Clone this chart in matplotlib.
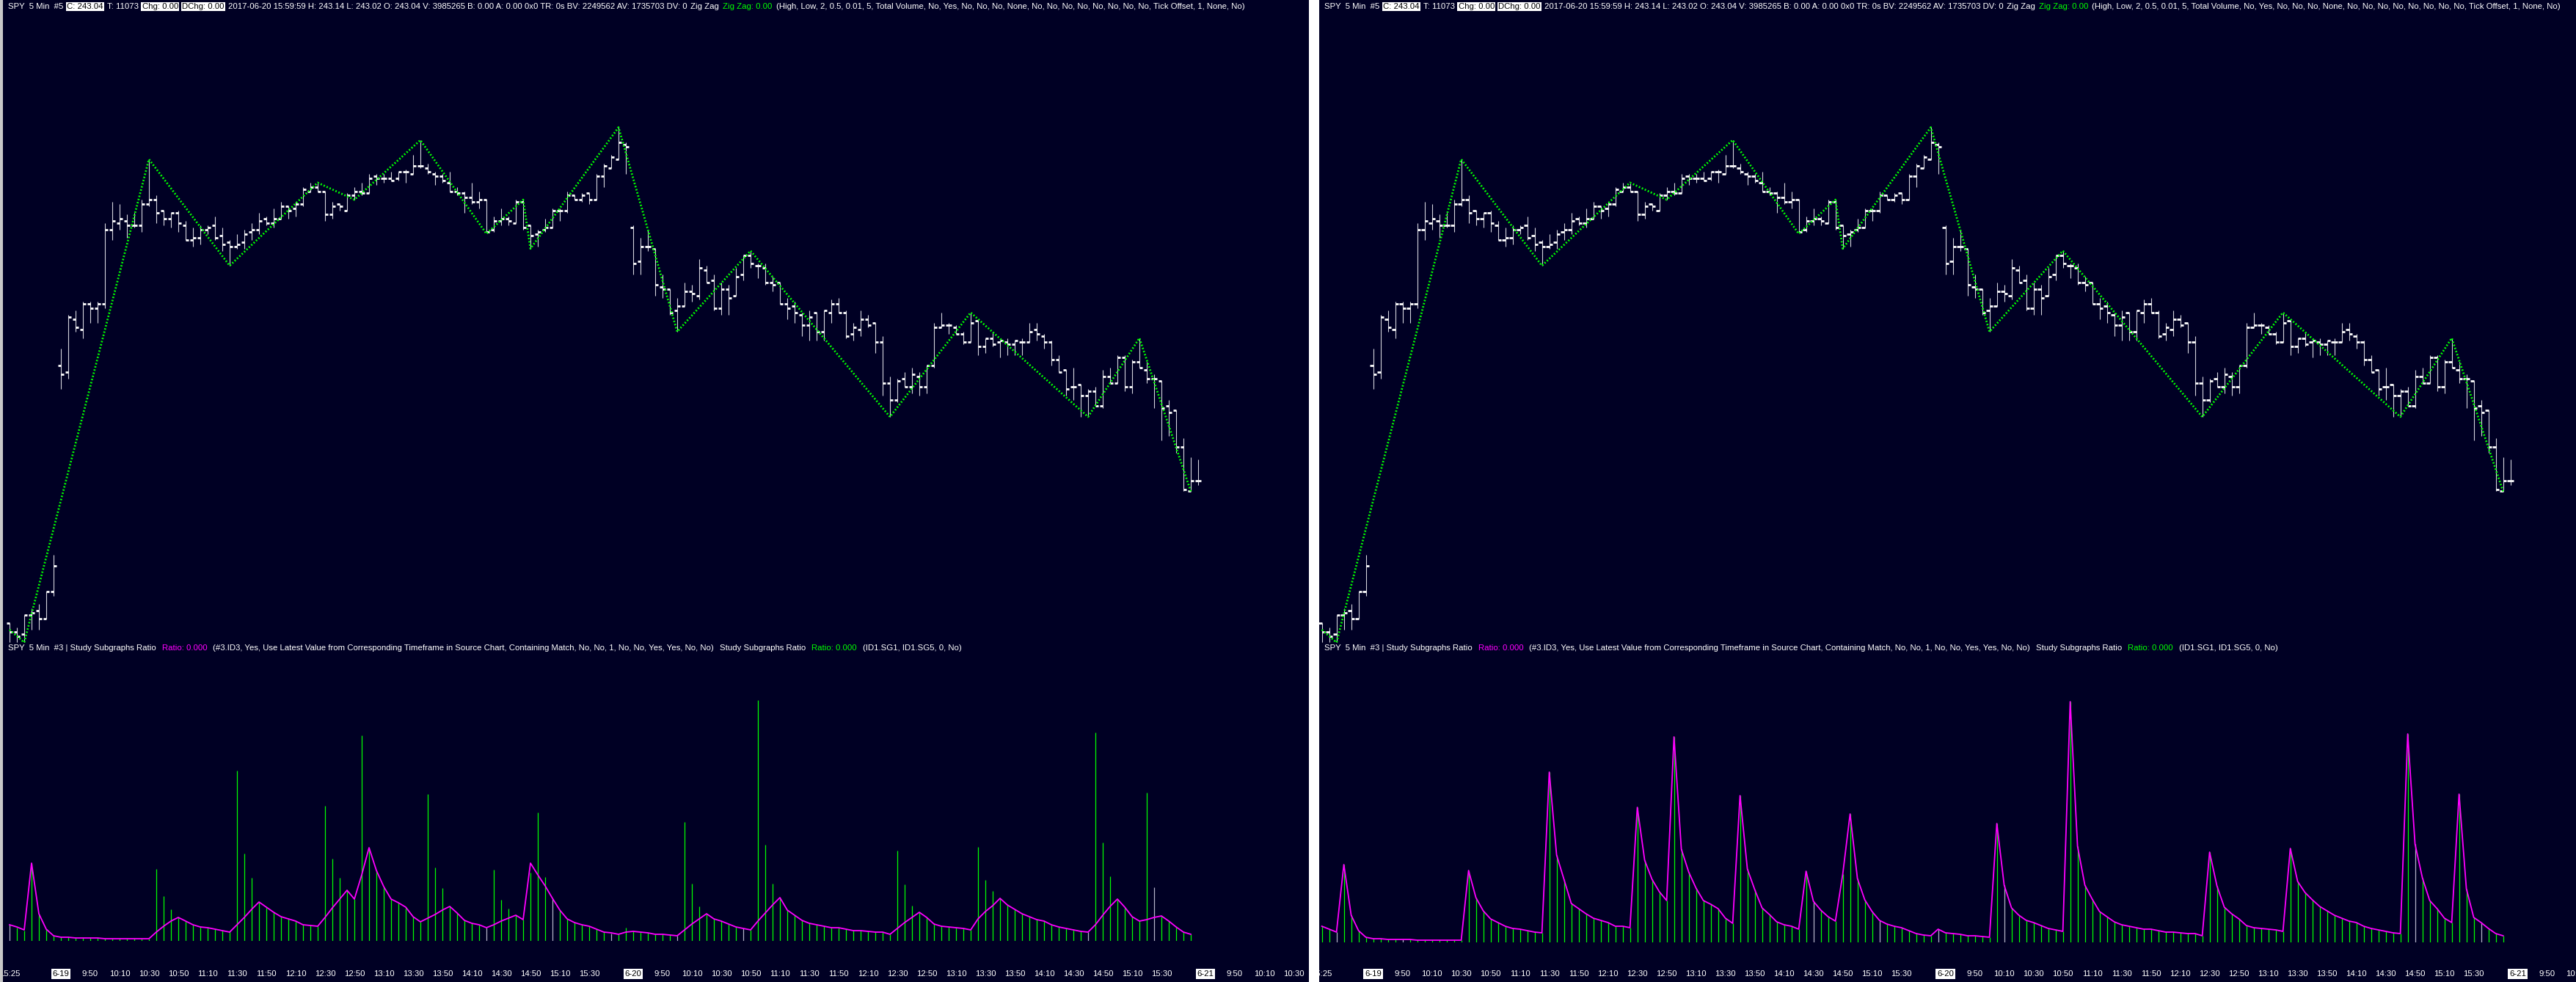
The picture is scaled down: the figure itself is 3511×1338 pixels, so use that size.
import matplotlib
matplotlib.use("Agg")
import matplotlib.pyplot as plt
from matplotlib import font_manager as fm
from matplotlib.font_manager import FontProperties
from matplotlib.transforms import blended_transform_factory
from datetime import datetime, timedelta

W, H, DPI = 3512, 1338, 100
BG = '#000024'
GREEN = '#00ff00'
MAGENTA = '#ff00ff'
BAR_GRAY = '#b4b4c8'

# SPY 5 min bars: 6-16 (last 7 bars), 6-19, 6-20
opens = [242.37, 242.33, 242.32, 242.41, 242.43, 242.39, 242.52,
         243.58, 243.55, 243.80, 243.75, 243.87, 243.85, 243.87, 244.22, 244.25, 244.26, 244.24, 244.24, 244.34,
         244.36, 244.31, 244.27, 244.30, 244.24, 244.17, 244.18, 244.22, 244.24, 244.19,
         244.16, 244.14, 244.16, 244.21, 244.22, 244.27, 244.25, 244.27, 244.33, 244.32,
         244.34, 244.40, 244.42, 244.40, 244.29, 244.34, 244.31, 244.38, 244.40, 244.39,
         244.47, 244.46, 244.46, 244.46, 244.49, 244.48, 244.52, 244.51, 244.48, 244.47,
         244.44, 244.40, 244.39, 244.37, 244.35, 244.36, 244.22, 244.26, 244.27, 244.25,
         244.35, 244.24, 244.20, 244.22, 244.23, 244.31, 244.31, 244.38, 244.36, 244.39,
         244.36, 244.47, 244.51, 244.55, 244.62,
         244.23, 244.07, 244.14, 244.13, 243.95, 243.94, 243.84, 243.86, 243.93, 243.91,
         244.03, 243.98, 243.85, 243.94, 243.91, 244.01, 244.10, 244.05, 244.04, 243.97,
         243.97, 243.87, 243.86, 243.82, 243.77, 243.83, 243.74, 243.83, 243.87, 243.83,
         243.73, 243.75, 243.80, 243.78, 243.69, 243.50, 243.42, 243.52, 243.48, 243.53,
         243.48, 243.58, 243.76, 243.77, 243.76, 243.73, 243.69, 243.79, 243.67, 243.71,
         243.69, 243.69, 243.68, 243.69, 243.69, 243.75, 243.72, 243.69, 243.61, 243.56,
         243.48, 243.49, 243.44, 243.46, 243.39, 243.53, 243.50, 243.62, 243.48, 243.60,
         243.56, 243.52, 243.51, 243.39, 243.37, 243.20, 242.99, 243.04]
highs = [242.37, 242.35, 242.41, 242.44, 242.46, 242.52, 242.69,
         243.66, 243.82, 243.84, 243.88, 243.88, 243.88, 244.25, 244.35, 244.34, 244.29, 244.30, 244.36, 244.55,
         244.38, 244.31, 244.30, 244.31, 244.26, 244.23, 244.24, 244.24, 244.28, 244.23,
         244.17, 244.20, 244.22, 244.25, 244.30, 244.28, 244.32, 244.35, 244.33, 244.35,
         244.42, 244.44, 244.44, 244.40, 244.35, 244.34, 244.39, 244.42, 244.44, 244.48,
         244.48, 244.48, 244.49, 244.49, 244.50, 244.57, 244.64, 244.53, 244.49, 244.48,
         244.49, 244.42, 244.40, 244.44, 244.40, 244.36, 244.28, 244.32, 244.28, 244.36,
         244.36, 244.24, 244.22, 244.27, 244.32, 244.32, 244.40, 244.38, 244.39, 244.39,
         244.48, 244.53, 244.57, 244.70, 244.63,
         244.24, 244.18, 244.22, 244.13, 244.01, 243.94, 243.90, 243.97, 243.96, 244.08,
         244.05, 244.01, 243.97, 243.96, 244.04, 244.10, 244.12, 244.06, 244.06, 244.00,
         243.97, 243.90, 243.88, 243.83, 243.84, 243.83, 243.84, 243.89, 243.90, 243.84,
         243.78, 243.84, 243.82, 243.78, 243.72, 243.53, 243.52, 243.55, 243.57, 243.55,
         243.58, 243.78, 243.83, 243.78, 243.77, 243.74, 243.83, 243.80, 243.71, 243.74,
         243.70, 243.71, 243.70, 243.71, 243.78, 243.78, 243.73, 243.70, 243.63, 243.56,
         243.57, 243.49, 243.47, 243.48, 243.56, 243.57, 243.63, 243.63, 243.61, 243.71,
         243.60, 243.54, 243.51, 243.42, 243.37, 243.24, 243.15, 243.14]
lows = [242.28, 242.28, 242.28, 242.34, 242.34, 242.39, 242.50,
        243.47, 243.52, 243.74, 243.71, 243.78, 243.78, 243.85, 244.17, 244.22, 244.18, 244.23, 244.21, 244.33,
        244.25, 244.24, 244.23, 244.21, 244.17, 244.14, 244.15, 244.20, 244.17, 244.12,
        244.05, 244.13, 244.13, 244.17, 244.20, 244.24, 244.23, 244.27, 244.27, 244.28,
        244.33, 244.40, 244.40, 244.26, 244.27, 244.31, 244.31, 244.36, 244.38, 244.39,
        244.43, 244.44, 244.45, 244.45, 244.44, 244.48, 244.51, 244.48, 244.43, 244.44,
        244.40, 244.38, 244.30, 244.34, 244.32, 244.21, 244.21, 244.24, 244.24, 244.25,
        244.22, 244.13, 244.14, 244.21, 244.23, 244.26, 244.30, 244.36, 244.35, 244.34,
        244.36, 244.42, 244.51, 244.55, 244.48,
        244.01, 244.01, 244.12, 243.91, 243.90, 243.82, 243.74, 243.86, 243.88, 243.89,
        243.97, 243.84, 243.82, 243.82, 243.91, 243.98, 244.04, 243.99, 243.96, 243.93,
        243.87, 243.80, 243.78, 243.72, 243.70, 243.70, 243.70, 243.78, 243.83, 243.71,
        243.70, 243.72, 243.76, 243.64, 243.44, 243.34, 243.41, 243.48, 243.45, 243.44,
        243.45, 243.57, 243.76, 243.73, 243.73, 243.68, 243.69, 243.63, 243.64, 243.67,
        243.62, 243.63, 243.63, 243.63, 243.69, 243.70, 243.66, 243.58, 243.55, 243.44,
        243.42, 243.34, 243.34, 243.39, 243.38, 243.50, 243.50, 243.46, 243.45, 243.57,
        243.50, 243.38, 243.23, 243.25, 243.17, 242.99, 242.99, 243.02]
closes = [242.33, 242.31, 242.41, 242.42, 242.39, 242.52, 242.64,
          243.54, 243.81, 243.76, 243.87, 243.85, 243.87, 244.22, 244.26, 244.27, 244.24, 244.24, 244.34, 244.36,
          244.30, 244.27, 244.30, 244.25, 244.17, 244.18, 244.22, 244.23, 244.18, 244.15,
          244.14, 244.15, 244.20, 244.22, 244.26, 244.25, 244.27, 244.33, 244.31, 244.34,
          244.41, 244.42, 244.40, 244.29, 244.33, 244.33, 244.38, 244.40, 244.39, 244.46,
          244.46, 244.46, 244.45, 244.49, 244.49, 244.52, 244.52, 244.49, 244.47, 244.45,
          244.40, 244.39, 244.37, 244.35, 244.36, 244.21, 244.26, 244.27, 244.26, 244.35,
          244.23, 244.19, 244.21, 244.23, 244.31, 244.31, 244.38, 244.36, 244.38, 244.36,
          244.47, 244.52, 244.56, 244.63, 244.61,
          244.06, 244.14, 244.14, 243.96, 243.94, 243.83, 243.86, 243.93, 243.92, 244.04,
          243.97, 243.85, 243.94, 243.90, 244.00, 244.10, 244.06, 244.05, 243.97, 243.96,
          243.87, 243.85, 243.83, 243.77, 243.81, 243.74, 243.84, 243.87, 243.83, 243.72,
          243.76, 243.80, 243.77, 243.69, 243.50, 243.42, 243.51, 243.48, 243.54, 243.48,
          243.58, 243.76, 243.77, 243.77, 243.73, 243.69, 243.78, 243.67, 243.71, 243.68,
          243.70, 243.68, 243.70, 243.69, 243.74, 243.73, 243.69, 243.61, 243.55, 243.47,
          243.48, 243.44, 243.46, 243.39, 243.53, 243.50, 243.62, 243.48, 243.60, 243.57,
          243.52, 243.52, 243.38, 243.36, 243.20, 243.00, 243.04, 243.04]

# Zig Zag swing points (bar index, price)
zz_bars = [0, 2, 19, 30, 42, 47, 56, 65, 70, 71, 83, 91, 101, 120, 131, 147, 154, 161]
zz_prices = [242.34, 242.28, 244.55, 244.05, 244.44, 244.36, 244.64, 244.20, 244.36,
             244.13, 244.70, 243.74, 244.12, 243.34, 243.83, 243.34, 243.71, 242.99]

# Study Subgraphs Ratio (bars) and the left chart's ratio line
ratio = [0.22, 0.18, 0.14, 1.06, 0.37, 0.16, 0.07, 0.05, 0.05, 0.04,
         0.04, 0.04, 0.04, 0.03, 0.03, 0.03, 0.03, 0.03, 0.03, 0.03,
         0.98, 0.61, 0.43, 0.32, 0.27, 0.22, 0.19, 0.18, 0.16, 0.14,
         0.13, 2.32, 1.19, 0.86, 0.53, 0.46, 0.39, 0.33, 0.30, 0.27,
         0.22, 0.22, 0.20, 1.84, 1.12, 0.86, 0.69, 0.57, 2.80, 1.27,
         0.96, 0.74, 0.57, 0.52, 0.46, 0.33, 0.26, 2.00, 1.00, 0.72,
         0.47, 0.38, 0.28, 0.24, 0.22, 0.18, 0.97, 0.56, 0.44, 0.35,
         0.29, 0.93, 1.75, 0.87, 0.58, 0.42, 0.30, 0.25, 0.22, 0.20,
         0.16, 0.12, 0.10, 0.09, 0.18, 0.13, 0.12, 0.11, 0.09, 0.09,
         0.08, 0.07, 1.62, 0.78, 0.47, 0.37, 0.30, 0.27, 0.23, 0.19,
         0.17, 0.15, 3.28, 1.31, 0.78, 0.59, 0.42, 0.35, 0.28, 0.24,
         0.22, 0.20, 0.18, 0.18, 0.16, 0.14, 0.14, 0.13, 0.12, 0.12,
         0.09, 1.23, 0.77, 0.48, 0.39, 0.32, 0.23, 0.20, 0.19, 0.18,
         0.17, 0.15, 1.28, 0.83, 0.68, 0.58, 0.49, 0.43, 0.37, 0.33,
         0.29, 0.27, 0.22, 0.19, 0.17, 0.15, 0.13, 0.12, 2.84, 1.34,
         0.88, 0.57, 0.46, 0.33, 0.27, 2.02, 0.73, 0.34, 0.27, 0.19,
         0.12, 0.09]
ratio_line_left = [0.22, 0.19, 0.15, 1.06, 0.37, 0.16, 0.07, 0.05, 0.05, 0.04,
                   0.04, 0.04, 0.04, 0.03, 0.03, 0.03, 0.03, 0.03, 0.03, 0.03,
                   0.12, 0.20, 0.27, 0.32, 0.27, 0.22, 0.19, 0.18, 0.16, 0.14,
                   0.12, 0.22, 0.32, 0.43, 0.53, 0.46, 0.39, 0.33, 0.30, 0.27,
                   0.22, 0.21, 0.20, 0.32, 0.45, 0.57, 0.69, 0.57, 0.90, 1.27,
                   0.96, 0.74, 0.57, 0.52, 0.46, 0.33, 0.26, 0.31, 0.36, 0.42,
                   0.47, 0.38, 0.28, 0.24, 0.22, 0.18, 0.22, 0.27, 0.31, 0.35,
                   0.29, 1.06, 0.90, 0.75, 0.58, 0.42, 0.30, 0.25, 0.22, 0.20,
                   0.16, 0.12, 0.11, 0.09, 0.12, 0.13, 0.12, 0.11, 0.09, 0.09,
                   0.08, 0.07, 0.15, 0.23, 0.30, 0.37, 0.30, 0.27, 0.23, 0.19,
                   0.17, 0.15, 0.27, 0.38, 0.49, 0.59, 0.42, 0.35, 0.28, 0.24,
                   0.22, 0.20, 0.18, 0.18, 0.16, 0.14, 0.14, 0.13, 0.12, 0.12,
                   0.09, 0.17, 0.25, 0.32, 0.39, 0.32, 0.23, 0.20, 0.19, 0.18,
                   0.17, 0.15, 0.30, 0.40, 0.48, 0.58, 0.49, 0.43, 0.37, 0.33,
                   0.29, 0.27, 0.22, 0.19, 0.17, 0.15, 0.13, 0.12, 0.22, 0.35,
                   0.47, 0.57, 0.46, 0.33, 0.27, 0.29, 0.32, 0.34, 0.27, 0.19,
                   0.12, 0.09]
gray_left = [0, 65, 74, 82, 91, 100, 147, 156]
gray_right = [2, 11, 67, 76, 84, 93, 149, 158]

session_days = ['2017-06-16', '2017-06-19', '2017-06-20', '2017-06-21']
session_first = ['15:25', '09:30', '09:30', '09:30']
session_bars = [7, 78, 78, 16]   # 6-21: empty future slots

header1 = [("SPY  5 Min  #5", 'white', False),
           ("C: 243.04", 'black', True),
           ("T: 11073", 'white', False),
           ("Chg: 0.00", 'black', True),
           ("DChg: 0.00", 'black', True),
           ("2017-06-20 15:59:59 H: 243.14 L: 243.02 O: 243.04 V: 3985265 B: 0.00 A: 0.00 0x0 "
            "TR: 0s BV: 2249562 AV: 1735703 DV: 0", 'white', False),
           ("Zig Zag", 'white', False),
           ("Zig Zag: 0.00", GREEN, False),
           ("(High, Low, 2, 0.5, 0.01, 5, Total Volume, No, Yes, No, No, No, None, No, No, No, No, "
            "No, No, No, No, Tick Offset, 1, None, No)", 'white', False)]
header2 = [("SPY  5 Min  #3 | Study Subgraphs Ratio", 'white', False),
           ("Ratio: 0.000", MAGENTA, False),
           ("(#3.ID3, Yes, Use Latest Value from Corresponding Timeframe in Source Chart, Containing Match, "
            "No, No, 1, No, No, Yes, Yes, No, No)", 'white', False),
           ("Study Subgraphs Ratio", 'white', False),
           ("Ratio: 0.000", GREEN, False),
           ("(ID1.SG1, ID1.SG5, 0, No)", 'white', False)]

names = {f.name for f in fm.fontManager.ttflist}
FONT = 'Liberation Sans Narrow' if 'Liberation Sans Narrow' in names else 'Liberation Sans'

# time axis labels: first visible bar, session dates, then every 20 minutes
stamps = []
for day, first, n in zip(session_days, session_first, session_bars):
    t0 = datetime.strptime(day + ' ' + first, '%Y-%m-%d %H:%M')
    stamps += [t0 + timedelta(minutes=5 * k) for k in range(n)]
labels = []
for i, t in enumerate(stamps):
    mins = t.hour * 60 + t.minute - 570
    if i == 0:
        labels.append((i, f'{t.hour}:{t.minute:02d}', False))
    elif mins == 0:
        labels.append((i, f'{t.month}-{t.day}', True))
    elif i > 3 and mins % 20 == 0 and mins <= 360:
        labels.append((i, f'{t.hour}:{t.minute:02d}', False))

fig = plt.figure(figsize=(W / DPI, H / DPI), dpi=DPI, facecolor='white')
renderer = fig.canvas.get_renderer()


def px_rect(x0, y0, x1, y1):
    return [x0 / W, 1 - y1 / H, (x1 - x0) / W, (y1 - y0) / H]


def text_w(s, size):
    fp = FontProperties(family=FONT, size=size)
    return renderer.get_text_width_height_descent(s, fp, ismath=False)[0]


GAP = 5
tot = sum(text_w(s, 10) for s, _, _ in header1)
FS = 10 * (1683 - GAP * (len(header1) - 1)) / tot


def put_segments(ax, x, y, segs, gap):
    for s, col, boxed in segs:
        kw = {}
        if boxed:
            kw['bbox'] = dict(boxstyle='square,pad=0.12', fc='white', ec='none')
        ax.text(x, y, s, color=col, fontsize=FS, family=FONT, ha='left', va='center',
                clip_on=True, **kw)
        x += text_w(s, FS) + gap


def draw_panel(px0, px1, bar0, base, line_vals, gray):
    bg = fig.add_axes(px_rect(px0, 0, px1, H))
    bg.set_facecolor(BG)
    bg.set_xlim(px0, px1)
    bg.set_ylim(H, 0)
    bg.set_xticks([])
    bg.set_yticks([])
    for sp in bg.spines.values():
        sp.set_visible(False)

    xlim = ((px0 - bar0) / 10, (px1 - bar0) / 10)
    xs = list(range(len(closes)))

    axp = fig.add_axes(px_rect(px0, 25, px1, 880))
    axp.set_xlim(*xlim)
    axp.set_ylim(242.264, 245.212)
    axp.axis('off')
    axp.vlines(xs, lows, highs, color='#d4d4dc', lw=0.8)
    axp.hlines(opens, [x - 0.42 for x in xs], xs, color='white', lw=2.0)
    axp.hlines(closes, xs, [x + 0.42 for x in xs], color='white', lw=2.0)
    axp.plot(zz_bars, zz_prices, color=GREEN, lw=2.0, ls=(0, (0.7, 0.9)))

    axh = fig.add_axes(px_rect(px0, 900, px1, base))
    axh.set_xlim(*xlim)
    axh.set_ylim(0, (base - 900) / 100)
    axh.axis('off')
    hx = list(range(len(ratio)))
    cols = [BAR_GRAY if i in gray else GREEN for i in hx]
    axh.vlines(hx, 0, ratio, colors=cols, lw=0.9)
    axh.plot(hx, line_vals, color=MAGENTA, lw=1.3)

    put_segments(bg, px0 + 7, 9, header1, GAP)
    put_segments(bg, px0 + 7, 883, header2, GAP + 3)

    tr = blended_transform_factory(axp.transData, bg.transData)
    for i, s, boxed in labels:
        kw = {}
        if boxed:
            kw['bbox'] = dict(boxstyle='square,pad=0.15', fc='white', ec='none')
        bg.text(i, 1327, s, transform=tr, ha='center', va='center', fontsize=FS,
                family=FONT, color='black' if boxed else 'white', clip_on=True, **kw)


draw_panel(4, 1784, 13, 1282, ratio_line_left, gray_left)
draw_panel(1798, W, 1801.6, 1284, ratio, gray_right)

fig.add_artist(plt.Rectangle((0, 0), 4 / W, 1, transform=fig.transFigure,
                             color='#c8c8c8', lw=0))

fig.savefig('out.png', dpi=DPI, facecolor=fig.get_facecolor())
